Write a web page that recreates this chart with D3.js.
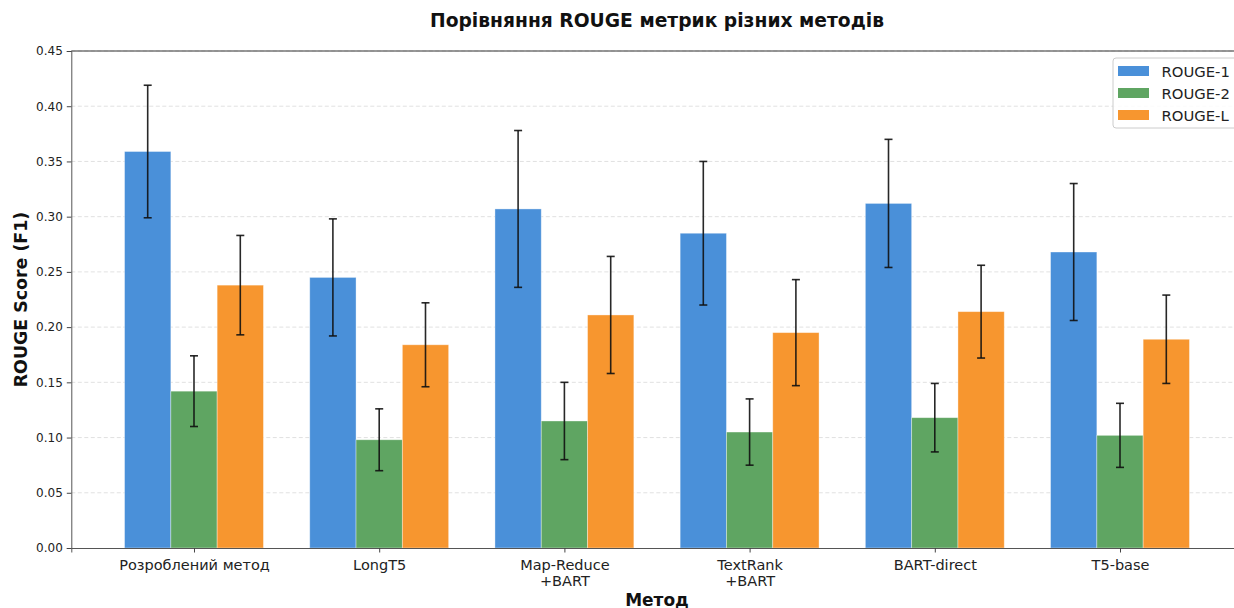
<!DOCTYPE html>
<html>
<head>
<meta charset="utf-8">
<script src="https://cdn.jsdelivr.net/npm/d3@7"></script>
<style>
  body { margin: 0; background: #fff; }
  svg { display: block; font-family: "DejaVu Sans", sans-serif; }
</style>
</head>
<body>
<div id="chart"></div>
<script>
// methods on the x axis (\n = line break)
const methods = ["Розроблений метод", "LongT5", "Map-Reduce\n+BART", "TextRank\n+BART", "BART-direct", "T5-base"];
const seriesNames = ["ROUGE-1", "ROUGE-2", "ROUGE-L"];

// mean scores
const rouge1 = [0.359, 0.245, 0.307, 0.285, 0.312, 0.268];
const rouge2 = [0.142, 0.098, 0.115, 0.105, 0.118, 0.102];
const rougeL = [0.238, 0.184, 0.211, 0.195, 0.214, 0.189];

// std (error bars)
const rouge1Err = [0.060, 0.053, 0.071, 0.065, 0.058, 0.062];
const rouge2Err = [0.032, 0.028, 0.035, 0.030, 0.031, 0.029];
const rougeLErr = [0.045, 0.038, 0.053, 0.048, 0.042, 0.040];

const yTicks = [0, 0.05, 0.10, 0.15, 0.20, 0.25, 0.30, 0.35, 0.40, 0.45];

const colors = ["#4a90d9", "#5fa562", "#f7962f"];

const width = 1234, height = 608;
const plot = { left: 71.3, right: 1242.7, top: 51, bottom: 548 };
const FONT = "DejaVu Sans, sans-serif";

const svg = d3.select("#chart").append("svg")
  .attr("width", width)
  .attr("height", height);

// numeric x like matplotlib: bars at i-0.25, i, i+0.25, width 0.25
const x = d3.scaleLinear()
  .domain([-0.6625, methods.length - 1 + 0.6625])
  .range([plot.left, plot.right]);
const barW = x(0.25) - x(0);

const y = d3.scaleLinear()
  .domain([0, 0.45])
  .range([plot.bottom, plot.top]);

// grid
svg.append("g")
  .selectAll("line")
  .data(yTicks.slice(1))
  .join("line")
  .attr("x1", plot.left).attr("x2", plot.right)
  .attr("y1", d => y(d)).attr("y2", d => y(d))
  .attr("stroke", "#d9d9d9")
  .attr("stroke-width", 0.8)
  .attr("stroke-dasharray", "4,2.5");

const series = [
  { name: seriesNames[0], vals: rouge1, errs: rouge1Err, off: -0.25 },
  { name: seriesNames[1], vals: rouge2, errs: rouge2Err, off: 0 },
  { name: seriesNames[2], vals: rougeL, errs: rougeLErr, off: 0.25 }
];

series.forEach((s, si) => {
  const g = svg.append("g");
  const rows = methods.map((m, i) => ({ i, v: s.vals[i], e: s.errs[i] }));

  g.selectAll("rect")
    .data(rows)
    .join("rect")
    .attr("x", d => x(d.i + s.off) - barW / 2)
    .attr("y", d => y(d.v))
    .attr("width", barW)
    .attr("height", d => y(0) - y(d.v))
    .attr("fill", colors[si])
    .attr("stroke", "#ffffff")
    .attr("stroke-opacity", 0.45)
    .attr("stroke-width", 0.8);
});

// error bars on top of bars
series.forEach(s => {
  const g = svg.append("g").attr("stroke", "#111").attr("stroke-opacity", 0.9);
  const rows = methods.map((m, i) => ({ i, v: s.vals[i], e: s.errs[i] }));
  g.selectAll(".eb")
    .data(rows)
    .join("line")
    .attr("x1", d => x(d.i + s.off)).attr("x2", d => x(d.i + s.off))
    .attr("y1", d => y(d.v - d.e)).attr("y2", d => y(d.v + d.e))
    .attr("stroke-width", 1.6);
  ["lo", "hi"].forEach(k => {
    g.selectAll(".cap-" + k)
      .data(rows)
      .join("line")
      .attr("x1", d => x(d.i + s.off) - 4).attr("x2", d => x(d.i + s.off) + 4)
      .attr("y1", d => y(k === "lo" ? d.v - d.e : d.v + d.e))
      .attr("y2", d => y(k === "lo" ? d.v - d.e : d.v + d.e))
      .attr("stroke-width", 1.6);
  });
});

// top spine
svg.append("line")
  .attr("x1", plot.left).attr("x2", plot.right)
  .attr("y1", plot.top).attr("y2", plot.top)
  .attr("stroke", "#333").attr("stroke-width", 1);

// y axis
const yAxis = svg.append("g")
  .attr("transform", `translate(${plot.left},0)`)
  .call(d3.axisLeft(y).tickValues(yTicks).tickFormat(d3.format(".2f")).tickSize(4.5).tickPadding(4));
yAxis.attr("font-family", FONT);
yAxis.select(".domain").attr("stroke", "#555");
yAxis.selectAll(".tick line").attr("stroke", "#444");
yAxis.selectAll("text").style("font-size", "12px").attr("fill", "#222");

// x axis
const xAxis = svg.append("g")
  .attr("transform", `translate(0,${plot.bottom})`)
  .call(d3.axisBottom(x).tickValues(d3.range(methods.length)).tickFormat("").tickSize(4.5));
xAxis.attr("font-family", FONT);
xAxis.select(".domain").attr("stroke", "#555");
xAxis.selectAll(".tick line").attr("stroke", "#444");
xAxis.selectAll(".tick").each(function(d) {
  const lines = methods[d].split("\n");
  const t = d3.select(this).append("text")
    .attr("fill", "#222")
    .attr("text-anchor", "middle")
    .style("font-size", "14.5px");
  lines.forEach((ln, k) => {
    t.append("tspan").attr("x", 0).attr("y", 21.5 + k * 16.8).text(ln);
  });
});

// title and axis labels
svg.append("text")
  .attr("x", (plot.left + plot.right) / 2)
  .attr("y", 27)
  .attr("text-anchor", "middle")
  .style("font-size", "18.7px")
  .style("font-weight", "bold")
  .attr("fill", "#111")
  .text("Порівняння ROUGE метрик різних методів");

svg.append("text")
  .attr("x", (plot.left + plot.right) / 2)
  .attr("y", 606)
  .attr("text-anchor", "middle")
  .style("font-size", "17px")
  .style("font-weight", "bold")
  .attr("fill", "#111")
  .text("Метод");

svg.append("text")
  .attr("transform", `translate(27,${(plot.top + plot.bottom) / 2}) rotate(-90)`)
  .attr("text-anchor", "middle")
  .style("font-size", "17.4px")
  .style("font-weight", "bold")
  .attr("fill", "#111")
  .text("ROUGE Score (F1)");

// legend
const legend = svg.append("g").attr("transform", "translate(1113,58)");
legend.append("rect")
  .attr("width", 125).attr("height", 70)
  .attr("rx", 3)
  .attr("fill", "#fff").attr("fill-opacity", 0.85)
  .attr("stroke", "#ccc");
seriesNames.forEach((n, i) => {
  legend.append("rect")
    .attr("x", 5).attr("y", 8 + i * 22)
    .attr("width", 31).attr("height", 10)
    .attr("fill", colors[i]);
  legend.append("text")
    .attr("x", 48.5).attr("y", 18.5 + i * 22)
    .style("font-size", "14.8px")
    .attr("fill", "#222")
    .text(n);
});
</script>
</body>
</html>
